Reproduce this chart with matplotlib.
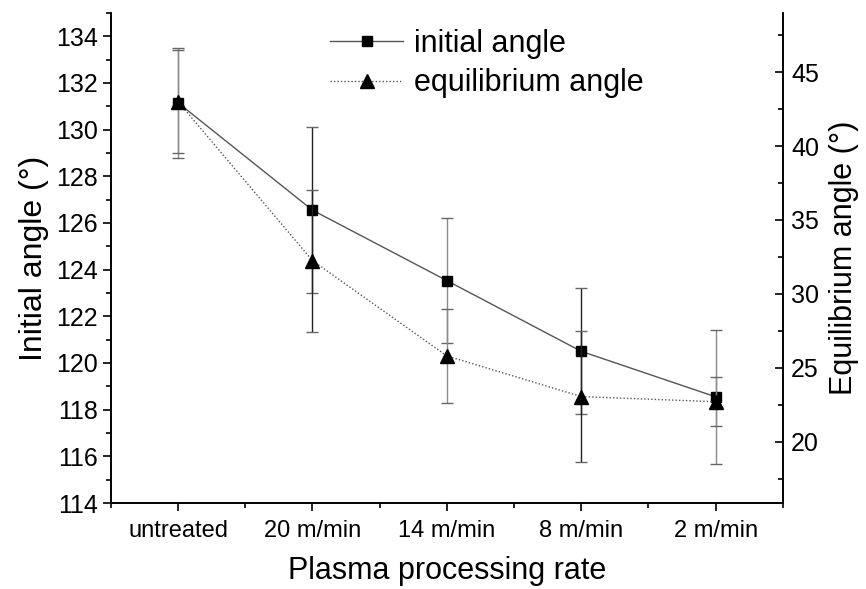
import matplotlib
matplotlib.use("Agg")
import matplotlib.pyplot as plt
from matplotlib.ticker import MultipleLocator

plt.rcParams['font.family'] = ['Liberation Sans', 'DejaVu Sans']

# processing rate categories
rates = ['untreated', '20 m/min', '14 m/min', '8 m/min', '2 m/min']

# initial contact angle (deg) and its error
initial_angle = [131.15, 126.55, 123.53, 120.5, 118.55]
initial_err = [2.35, 3.55, 2.67, 2.7, 2.88]

# equilibrium contact angle (deg) and its error
equil_angle = [43.0, 32.25, 25.8, 23.05, 22.7]
equil_err = [3.5, 4.8, 3.2, 4.45, 1.66]

# error bar shade per category
bar_shades = ['#8a8a8a', '#222222', '#8a8a8a', '#222222', '#8a8a8a']


def main():
    fig = plt.figure(figsize=(8.66, 5.89), dpi=100)
    ax1 = fig.add_axes([0.128, 0.146, 0.776, 0.832])
    ax2 = ax1.twinx()

    x = list(range(1, len(rates) + 1))

    l1 = ax1.errorbar(x, initial_angle, yerr=initial_err, color='#555555',
                      lw=1, marker='s', ms=7.5, mfc='black', mec='black',
                      ecolor='#666666', elinewidth=1, capsize=4, capthick=1,
                      label='initial angle')
    l2 = ax2.errorbar(x, equil_angle, yerr=equil_err, color='#555555',
                      lw=1, ls=(0, (1, 1.5)), marker='^', ms=9.5, mfc='black',
                      mec='black', ecolor='#444444', elinewidth=1, capsize=4,
                      capthick=1, label='equilibrium angle')

    # shade the bars and caps per category
    for eb in (l1, l2):
        eb[2][0].set_color(bar_shades)
        for cap in eb[1]:
            cap.set_markeredgecolor('#666666')

    ax1.set_xlim(0.5, 5.5)
    ax1.set_ylim(114, 135)
    ax2.set_ylim(15.85, 49.0)

    ax1.set_xticks(x)
    ax1.set_xticklabels(rates)
    ax1.xaxis.set_minor_locator(MultipleLocator(0.5))
    ax1.yaxis.set_major_locator(MultipleLocator(2))
    ax1.yaxis.set_minor_locator(MultipleLocator(1))
    ax2.yaxis.set_major_locator(MultipleLocator(5))
    ax2.yaxis.set_minor_locator(MultipleLocator(2.5))
    ax2.set_yticks([20, 25, 30, 35, 40, 45])

    for ax in (ax1, ax2):
        ax.spines['top'].set_visible(False)
        for s in ax.spines.values():
            s.set_linewidth(1.2)
    ax1.tick_params(axis='both', which='major', direction='out', length=6,
                    width=1.2, labelsize=18)
    ax1.tick_params(axis='both', which='minor', direction='out', length=3.5,
                    width=1.2)
    ax1.tick_params(axis='x', labelsize=17, pad=6)
    ax2.tick_params(axis='y', which='major', direction='in', length=6,
                    width=1.2, labelsize=18, pad=6)
    ax2.tick_params(axis='y', which='minor', direction='in', length=3.5,
                    width=1.2)

    ax1.set_xlabel('Plasma processing rate', fontsize=22, labelpad=10)
    ax1.set_ylabel('Initial angle (°)', fontsize=23, labelpad=5)
    ax2.set_ylabel('Equilibrium angle (°)', fontsize=22, labelpad=7)

    ax1.legend([l1[0], l2[0]], ['initial angle', 'equilibrium angle'],
               loc='upper left', bbox_to_anchor=(0.326, 0.967), frameon=False,
               fontsize=22, handlelength=2.4, handletextpad=0.35,
               labelspacing=0.3, borderaxespad=0, borderpad=0)

    fig.savefig('out.png', dpi=100)


if __name__ == "__main__":
    main()
